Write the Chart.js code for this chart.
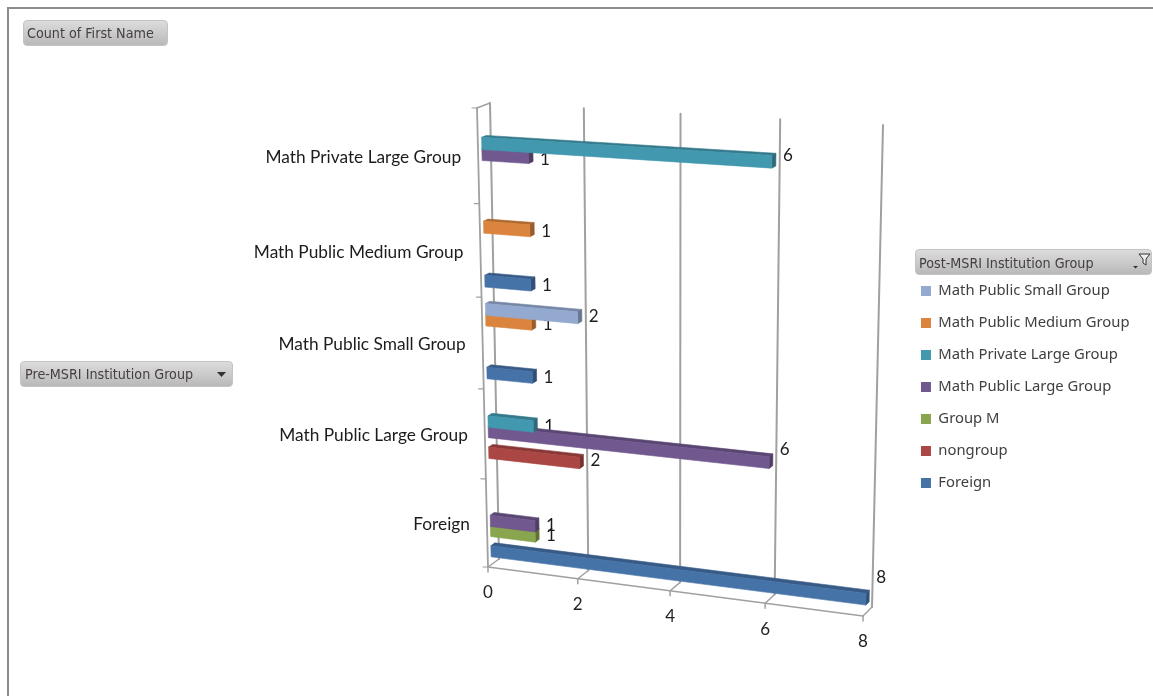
<!DOCTYPE html>
<html>
<head>
<meta charset="utf-8">
<title>Post-MSRI Institution Group</title>
<script src="https://cdn.jsdelivr.net/npm/chart.js@4"></script>
<style>
  html, body { margin: 0; padding: 0; background: #fff; }
  #frame { position: absolute; left: 7px; top: 7px; width: 1146px; height: 689px;
           border-left: 2px solid #8c8c8c; border-top: 2px solid #8c8c8c; }
  canvas { position: absolute; left: 0; top: 0; }
  .campo { position: absolute; box-sizing: border-box; border: 1px solid #c4c4c4; border-radius: 4px;
           background: linear-gradient(#dcdcdc, #b9b9b9); color: #463f3f;
           font: 14.2px "DejaVu Sans Condensed", "DejaVu Sans", sans-serif; padding-left: 3px; white-space: nowrap; }
  .campo svg { position: absolute; }
</style>
</head>
<body>
<div id="frame"></div>
<canvas id="chart_grupos" width="1153" height="696"></canvas>
<div class="campo" style="left:23px;top:20px;width:145px;height:26px;line-height:25px;">Count of First Name</div>
<div class="campo" style="left:20px;top:361px;width:213px;height:26px;line-height:25px;padding-left:4px;">Pre-MSRI Institution Group
  <svg style="left:196px;top:10px" width="10" height="6"><path d="M0 0H9L4.5 5Z" fill="#333"/></svg>
</div>
<div class="campo" style="left:915px;top:249px;width:237px;height:26px;line-height:26px;">Post-MSRI Institution Group
  <svg style="left:216px;top:2px" width="20" height="18"><path d="M1 14H6L3.5 16.5Z" fill="#333"/><path d="M7 2H18L14 7V13L11 11V7Z" fill="#eee" stroke="#333"/></svg>
</div>
<script>
const categorias = ["Math Private Large Group", "Math Public Medium Group", "Math Public Small Group", "Math Public Large Group", "Foreign"];
const ticksValor = [0, 2, 4, 6, 8];

const mathPublicSmall = [null, null, 2, null, null];
const mathPublicMedium = [null, 1, 1, null, null];
const mathPrivateLarge = [6, null, null, 1, null];
const mathPublicLarge = [1, null, null, 6, 1];
const groupM = [null, null, null, null, 1];
const nongroup = [null, null, null, 2, null];
const foreign = [null, 1, 1, null, 8];

// walls of the box the plot area gets projected on
const PARED_FRENTE = [[477, 108], [872, 131], [863, 616], [488, 567]];
const PARED_FONDO = [[490, 103], [883, 125], [872, 607], [499, 559]];
const BARRA_FRENTE = 0.3;
const BARRA_FONDO = 0.66;
const COLOR_LINEA = "#a0a0a0";

function homografia(q) {
  let [x0, y0] = q[0], [x1, y1] = q[1], [x2, y2] = q[2], [x3, y3] = q[3];
  let dx1 = x1 - x2, dx2 = x3 - x2, sx = x0 - x1 + x2 - x3;
  let dy1 = y1 - y2, dy2 = y3 - y2, sy = y0 - y1 + y2 - y3;
  let det = dx1 * dy2 - dx2 * dy1;
  let g = (sx * dy2 - dx2 * sy) / det;
  let h = (dx1 * sy - sx * dy1) / det;
  return function (u, v) {
    let w = g * u + h * v + 1;
    return [
      ((x1 - x0 + g * x1) * u + (x3 - x0 + h * x3) * v + x0) / w,
      ((y1 - y0 + g * y1) * u + (y3 - y0 + h * y3) * v + y0) / w,
    ];
  };
}

const hFrente = homografia(PARED_FRENTE);
const hFondo = homografia(PARED_FONDO);

// d = 0 front plane, d = 1 back plane
function proyectar(u, v, d) {
  let a = hFrente(u, v), b = hFondo(u, v);
  return [a[0] + (b[0] - a[0]) * d, a[1] + (b[1] - a[1]) * d];
}

function poligono(ctx, puntos, color) {
  ctx.beginPath();
  puntos.forEach(function (p, i) {
    if (i === 0) ctx.moveTo(p[0], p[1]);
    else ctx.lineTo(p[0], p[1]);
  });
  ctx.closePath();
  ctx.fillStyle = color;
  ctx.strokeStyle = color;
  ctx.lineWidth = 0.6;
  ctx.lineJoin = "round";
  ctx.fill();
  ctx.stroke();
}

function linea(ctx, a, b, ancho) {
  ctx.beginPath();
  ctx.moveTo(a[0], a[1]);
  ctx.lineTo(b[0], b[1]);
  ctx.lineWidth = ancho;
  ctx.strokeStyle = COLOR_LINEA;
  ctx.stroke();
}

function oscurecer(hex, f) {
  let n = parseInt(hex.slice(1), 16);
  let r = Math.round((n >> 16) * f), g = Math.round(((n >> 8) & 255) * f), b = Math.round((n & 255) * f);
  return `rgb(${r},${g},${b})`;
}

function coordenadas(chart) {
  let area = chart.chartArea;
  return {
    u: (px) => (px - area.left) / (area.right - area.left),
    v: (py) => (py - area.top) / (area.bottom - area.top),
  };
}

function dibujarEjes(chart) {
  let ctx = chart.ctx;
  let { u } = coordenadas(chart);
  let escala = chart.scales.x;

  ctx.save();
  ctx.lineCap = "round";
  ticksValor.forEach(function (t) {
    let ut = u(escala.getPixelForValue(t));
    let base = proyectar(ut, 1, 0);
    linea(ctx, proyectar(ut, 0, 1), proyectar(ut, 1, 1), 2);
    linea(ctx, proyectar(ut, 1, 1), base, 1.5);
    linea(ctx, base, [base[0], base[1] + 5], 1.5);

    ctx.fillStyle = "#222";
    ctx.font = '17px Lato, sans-serif';
    ctx.textAlign = "center";
    ctx.textBaseline = "middle";
    ctx.fillText(String(t), base[0], base[1] + 26);
  });

  // floor front edge, left wall and its category ticks
  linea(ctx, proyectar(0, 1, 0), proyectar(1, 1, 0), 1.5);
  linea(ctx, proyectar(0, 0, 0), proyectar(0, 1, 0), 1.8);
  linea(ctx, proyectar(0, 0, 0), proyectar(0, 0, 1), 1.5);

  let n = categorias.length;
  for (let i = 0; i <= n; i++) {
    let p = proyectar(0, i / n, 0);
    linea(ctx, [p[0] - 5, p[1]], p, 1.2);
  }

  ctx.fillStyle = "#1c1c1c";
  ctx.font = '17.3px Lato, sans-serif';
  ctx.textAlign = "right";
  ctx.textBaseline = "middle";
  categorias.forEach(function (c, i) {
    let p = proyectar(0, (i + 0.5) / n, 0);
    ctx.fillText(c, p[0] - 17, p[1] + 1.5);
  });
  ctx.restore();
}

function dibujarEtiquetas(chart) {
  let ctx = chart.ctx;
  let { u, v } = coordenadas(chart);

  ctx.save();
  ctx.fillStyle = "#1c1c1c";
  ctx.font = '17px Lato, sans-serif';
  ctx.textAlign = "left";
  ctx.textBaseline = "middle";
  chart.data.datasets.forEach(function (ds, i) {
    chart.getDatasetMeta(i).data.forEach(function (el, j) {
      if (ds.data[j] == null) return;
      let fin = proyectar(u(el.x), v(el.y), BARRA_FONDO);
      let inicio = proyectar(u(el.base), v(el.y), BARRA_FONDO);
      ctx.fillText(String(ds.data[j]), fin[0] + 7, fin[1] - (fin[1] - inicio[1]) * 0.5 + 5);
    });
  });
  ctx.restore();
}

function dibujarBarras(chart) {
  let ctx = chart.ctx;
  let { u, v } = coordenadas(chart);

  // lower bars first so the ones above them cover their top faces
  for (let i = chart.data.datasets.length - 1; i >= 0; i--) {
    let ds = chart.data.datasets[i];
    chart.getDatasetMeta(i).data.forEach(function (el, j) {
      if (ds.data[j] == null) return;
      let u0 = u(el.base), u1 = u(el.x);
      let v0 = v(el.y - el.height / 2), v1 = v(el.y + el.height / 2);
      let f = BARRA_FRENTE, b = BARRA_FONDO;

      poligono(ctx, [proyectar(u0, v0, f), proyectar(u1, v0, f), proyectar(u1, v0, b), proyectar(u0, v0, b)], oscurecer(ds.backgroundColor, 0.8));
      poligono(ctx, [proyectar(u1, v0, f), proyectar(u1, v0, b), proyectar(u1, v1, b), proyectar(u1, v1, f)], oscurecer(ds.backgroundColor, 0.7));
      poligono(ctx, [proyectar(u0, v0, f), proyectar(u1, v0, f), proyectar(u1, v1, f), proyectar(u0, v1, f)], ds.backgroundColor);
    });
  }
}

const cajaPerspectiva = {
  id: "cajaPerspectiva",
  beforeDatasetsDraw(chart) {
    dibujarEjes(chart);
    dibujarEtiquetas(chart);
  },
  beforeDatasetDraw() {
    return false;
  },
  afterDatasetsDraw(chart) {
    dibujarBarras(chart);
  },
};

function serie(label, data, color) {
  return { label: label, data: data, backgroundColor: color, categoryPercentage: 0.81, barPercentage: 1.1 };
}

new Chart(document.getElementById("chart_grupos"), {
  type: "bar",
  plugins: [cajaPerspectiva],
  data: {
    labels: categorias,
    datasets: [
      serie("Math Public Small Group", mathPublicSmall, "#93a9cf"),
      serie("Math Public Medium Group", mathPublicMedium, "#db843d"),
      serie("Math Private Large Group", mathPrivateLarge, "#4198af"),
      serie("Math Public Large Group", mathPublicLarge, "#71588f"),
      serie("Group M", groupM, "#89a54e"),
      serie("nongroup", nongroup, "#aa4643"),
      serie("Foreign", foreign, "#4572a7"),
    ],
  },
  options: {
    indexAxis: "y",
    responsive: false,
    animation: false,
    layout: { padding: { top: 78, right: 13.5 } },
    plugins: {
      tooltip: { enabled: false },
      legend: {
        position: "right",
        labels: {
          boxWidth: 10,
          boxHeight: 10,
          padding: 17.2,
          color: "#404040",
          font: { family: "'Noto Sans', sans-serif", size: 14.8 },
        },
      },
    },
    scales: {
      x: { display: false, min: 0, max: 8, ticks: { stepSize: 2 } },
      y: { display: false },
    },
  },
});
</script>
</body>
</html>
